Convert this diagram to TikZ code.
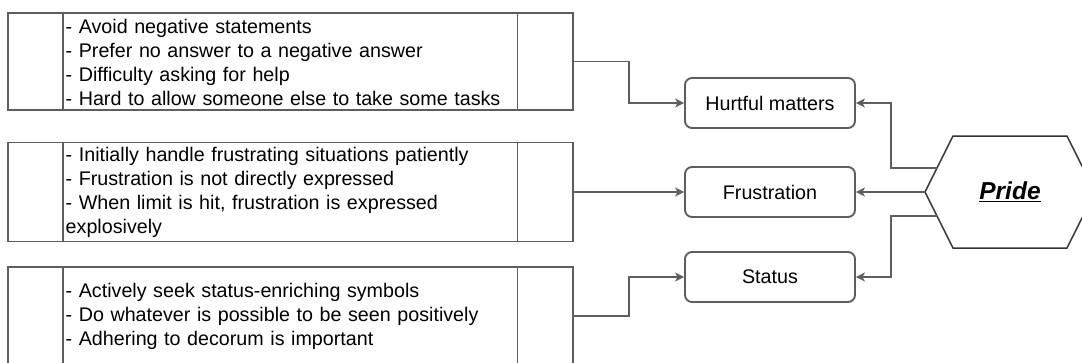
\documentclass[tikz,border=0pt]{standalone}
\usepackage{fontspec}
\setmainfont{Liberation Sans}
\usetikzlibrary{arrows.meta,calc}
\definecolor{linec}{HTML}{5E5E5E}
\definecolor{darkc}{HTML}{333333}
\newcommand\prideul[1]{\setbox0\hbox{#1}\rlap{\rule[-3pt]{\wd0}{1.8pt}}\box0}
\begin{document}
\begin{tikzpicture}[x=1pt,y=-1pt,
  cell/.style={draw=linec, line width=1.9pt, inner sep=0pt, minimum width=565pt},
  divider/.style={draw=linec, line width=1.9pt},
  txt/.style={inner sep=0pt, anchor=west, align=left, text width=448pt, font=\fontsize{19.7}{24}\selectfont},
  rbox/.style={draw=linec, line width=1.9pt, rounded corners=7pt, minimum width=170pt, minimum height=50pt, inner sep=0pt, font=\fontsize{19.7}{24}\selectfont},
  hexline/.style={draw=darkc, line width=1.5pt},
  conn/.style={draw=linec, line width=1.8pt, -{Stealth[length=9pt,width=9pt,inset=2.5pt]}}
]
\useasboundingbox (0,0) rectangle (1082,362);
\clip (0,0) rectangle (1082,362);

% left boxes
\node[cell, minimum height=97pt] (b1) at (290.5,61.5) {};
\node[cell, minimum height=99pt] (b2) at (290.5,192) {};
\node[cell, minimum height=98pt] (b3) at (290.5,316) {};
\foreach \b in {b1,b2,b3}{
  \draw[divider] ([xshift=56pt]\b.north west) -- ([xshift=56pt]\b.south west);
  \draw[divider] ([xshift=-56.5pt]\b.north east) -- ([xshift=-56.5pt]\b.south east);
}
\node[txt] (t1) at (65.5,62) {- Avoid negative statements\\- Prefer no answer to a negative answer\\- Difficulty asking for help\\- Hard to allow someone else to take some tasks};
\node[txt] (t2) at (65.5,192) {- Initially handle frustrating situations patiently\\- Frustration is not directly expressed\\- When limit is hit, frustration is expressed\\explosively};
\node[txt] (t3) at (65.5,316) {- Actively seek status-enriching symbols\\- Do whatever is possible to be seen positively\\- Adhering to decorum is important};

% right boxes
\node[rbox] (hm) at (770,103) {Hurtful matters};
\node[rbox] (fr) at (770,192) {Frustration};
\node[rbox] (st) at (770,277) {Status};

% hexagon
\draw[hexline] (925,192) coordinate (pv) -- (953,136) -- (1067,136) -- (1095,192) -- (1067,248) -- (953,248) -- cycle;
\coordinate (pa) at (937,168);
\coordinate (pb) at (937,216);
\node[inner sep=0pt, font=\fontsize{24.5}{28}\selectfont\bfseries\itshape] (pride) at (1010,192) {\prideul{Pride}};

% connectors
\draw[conn] (b1.east) -| ($(b1.east)!.5!(hm.west)$) |- (hm.west);
\draw[conn] (b2.east) -- (fr.west);
\draw[conn] (b3.east) -| ($(b3.east)!.5!(st.west)$) |- (st.west);
\draw[conn] (pa) -| ([xshift=35pt]hm.east) -- (hm.east);
\draw[conn] (pv) -- (fr.east);
\draw[conn] (pb) -| ([xshift=35pt]st.east) -- (st.east);
\end{tikzpicture}
\end{document}
